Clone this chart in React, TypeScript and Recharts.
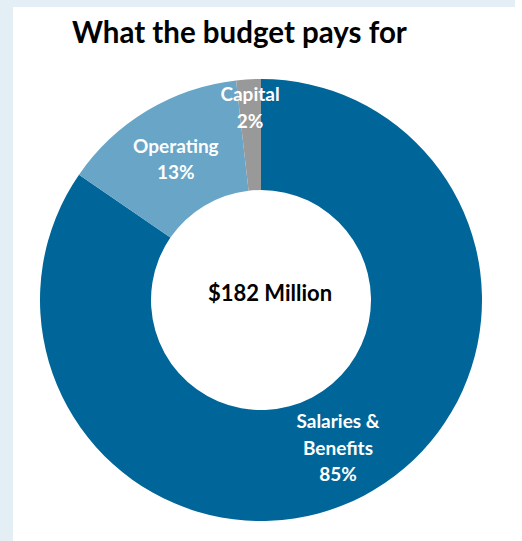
import React from "react";
import { PieChart, Pie, Cell } from "recharts";

const categories = ["Salaries & Benefits", "Operating", "Capital"];
const shares = [84.6, 13.6, 1.8];
const labelLines = [
  ["Salaries &", "Benefits", "85%"],
  ["Operating", "13%"],
  ["Capital", "2%"],
];
const colors = ["#006699", "#68A5C6", "#999999"];
const centerText = "$182 Million";
const title = "What the budget pays for";

const data = categories.map((name, i) => ({
  name,
  value: shares[i],
  lines: labelLines[i],
}));

const RADIAN = Math.PI / 180;
const FONT = "Lato, 'Open Sans', sans-serif";

const renderLabel = (props: any) => {
  const { cx, cy, midAngle, innerRadius, outerRadius, percent, payload } = props;
  let r = (innerRadius + outerRadius) / 2;
  // tiny slices get their label pushed outwards, like Excel does
  if (percent < 0.05) r = outerRadius - 27;
  const x = cx + r * Math.cos(-midAngle * RADIAN);
  const y = cy + r * Math.sin(-midAngle * RADIAN);
  const lines: string[] = payload.lines;
  const lh = 26.5;
  const top = y - ((lines.length - 1) * lh) / 2;
  return (
    <text
      x={x}
      y={top}
      fill="#ffffff"
      textAnchor="middle"
      dominantBaseline="central"
      fontFamily={FONT}
      fontWeight="bold"
      fontSize={19}
    >
      {lines.map((l, i) => (
        <tspan key={i} x={x} y={top + i * lh}>
          {l}
        </tspan>
      ))}
    </text>
  );
};

const App = () => {
  return (
    <div
      style={{
        position: "fixed",
        left: 0,
        top: 0,
        width: 522,
        height: 541,
        background: "#ffffff",
        overflow: "hidden",
      }}
    >
      <div style={{ position: "absolute", left: 0, top: 0, width: 13, height: 541, background: "#E3EEF5" }} />
      <div style={{ position: "absolute", left: 13, top: 0, width: 502, height: 7, background: "#E3EEF5" }} />
      <div
        style={{
          position: "absolute",
          left: 72,
          top: 14,
          fontFamily: FONT,
          fontWeight: "bold",
          fontSize: 29.5,
          color: "#000000",
          whiteSpace: "nowrap",
        }}
      >
        {title}
      </div>
      <div style={{ position: "absolute", left: 0, top: 0 }}>
        <PieChart width={522} height={541} margin={{ top: 0, right: 0, bottom: 0, left: 0 }}>
          <Pie
            data={data}
            dataKey="value"
            nameKey="name"
            cx={261}
            cy={300}
            innerRadius={110}
            outerRadius={221}
            startAngle={90}
            endAngle={-270}
            stroke="none"
            label={renderLabel}
            labelLine={false}
            isAnimationActive={false}
          >
            {data.map((entry, index) => (
              <Cell key={`cell-${index}`} fill={colors[index]} />
            ))}
          </Pie>
          <text
            x={270}
            y={292}
            textAnchor="middle"
            dominantBaseline="central"
            fontFamily={FONT}
            fontWeight="bold"
            fontSize={22}
            fill="#000000"
          >
            {centerText}
          </text>
        </PieChart>
      </div>
    </div>
  );
};

export default App;
